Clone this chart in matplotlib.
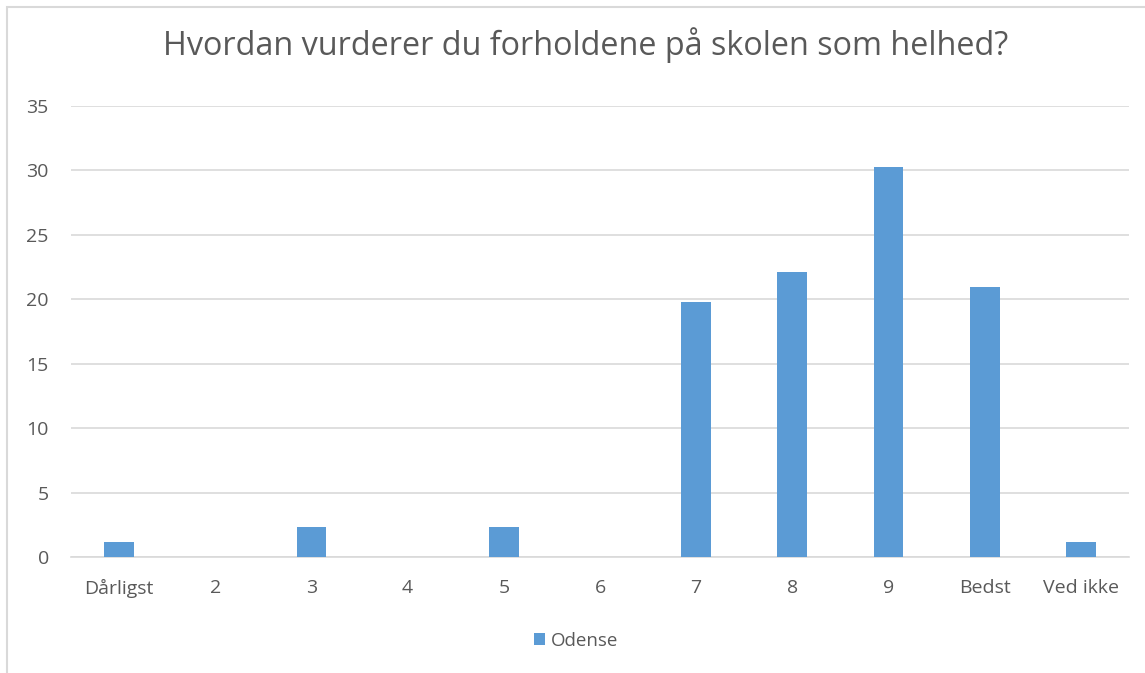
import matplotlib
matplotlib.use("Agg")
import matplotlib.pyplot as plt
from matplotlib.patches import Rectangle

categories = ["Dårligst", "2", "3", "4", "5", "6", "7", "8", "9", "Bedst", "Ved ikke"]
odense = [1.16, 0, 2.33, 0, 2.33, 0, 19.77, 22.09, 30.23, 20.93, 1.16]
yticks = [0, 5, 10, 15, 20, 25, 30, 35]

plt.rcParams['font.family'] = ['Open Sans', 'DejaVu Sans']
text_color = "#595959"
bar_color = "#5B9BD5"

fig = plt.figure(figsize=(11.45, 6.73), dpi=100)
fig.patches.append(Rectangle((7/1145, -0.1), 1.2, 1 - 7/673 + 0.1, transform=fig.transFigure,
                             fill=False, edgecolor="#d9d9d9", linewidth=1.5))
ax = fig.add_axes([71/1145, 1 - 557/673, (1129 - 71)/1145, (557 - 106)/673])
x = range(len(categories))
ax.bar(x, odense, width=0.31, color=bar_color, label="Odense", zorder=3)
ax.set_xlim(-0.5, len(categories) - 0.5)
ax.set_ylim(0, 35)
ax.set_yticks(yticks)
ax.set_xticks(list(x))
ax.set_xticklabels(categories)
ax.yaxis.grid(True, color="#d9d9d9", linewidth=1.2, zorder=0)
for s in ["top", "right", "left"]:
    ax.spines[s].set_visible(False)
ax.spines["bottom"].set_color("#d9d9d9")
ax.spines["bottom"].set_linewidth(1.2)
ax.tick_params(axis="both", length=0, labelsize=14, colors=text_color)
ax.tick_params(axis="x", pad=16)
ax.tick_params(axis="y", pad=16)
fig.text(586/1145, 1 - 45/673, "Hvordan vurderer du forholdene på skolen som helhed?",
         ha="center", va="center", fontsize=23.3, color=text_color)
leg = fig.legend(loc="center", bbox_to_anchor=(576/1145, 1 - 641/673), frameon=False,
                 fontsize=13.5, handlelength=0.6, handleheight=0.6, handletextpad=0.3)
for t in leg.get_texts():
    t.set_color(text_color)
fig.savefig("out.png", dpi=100)
